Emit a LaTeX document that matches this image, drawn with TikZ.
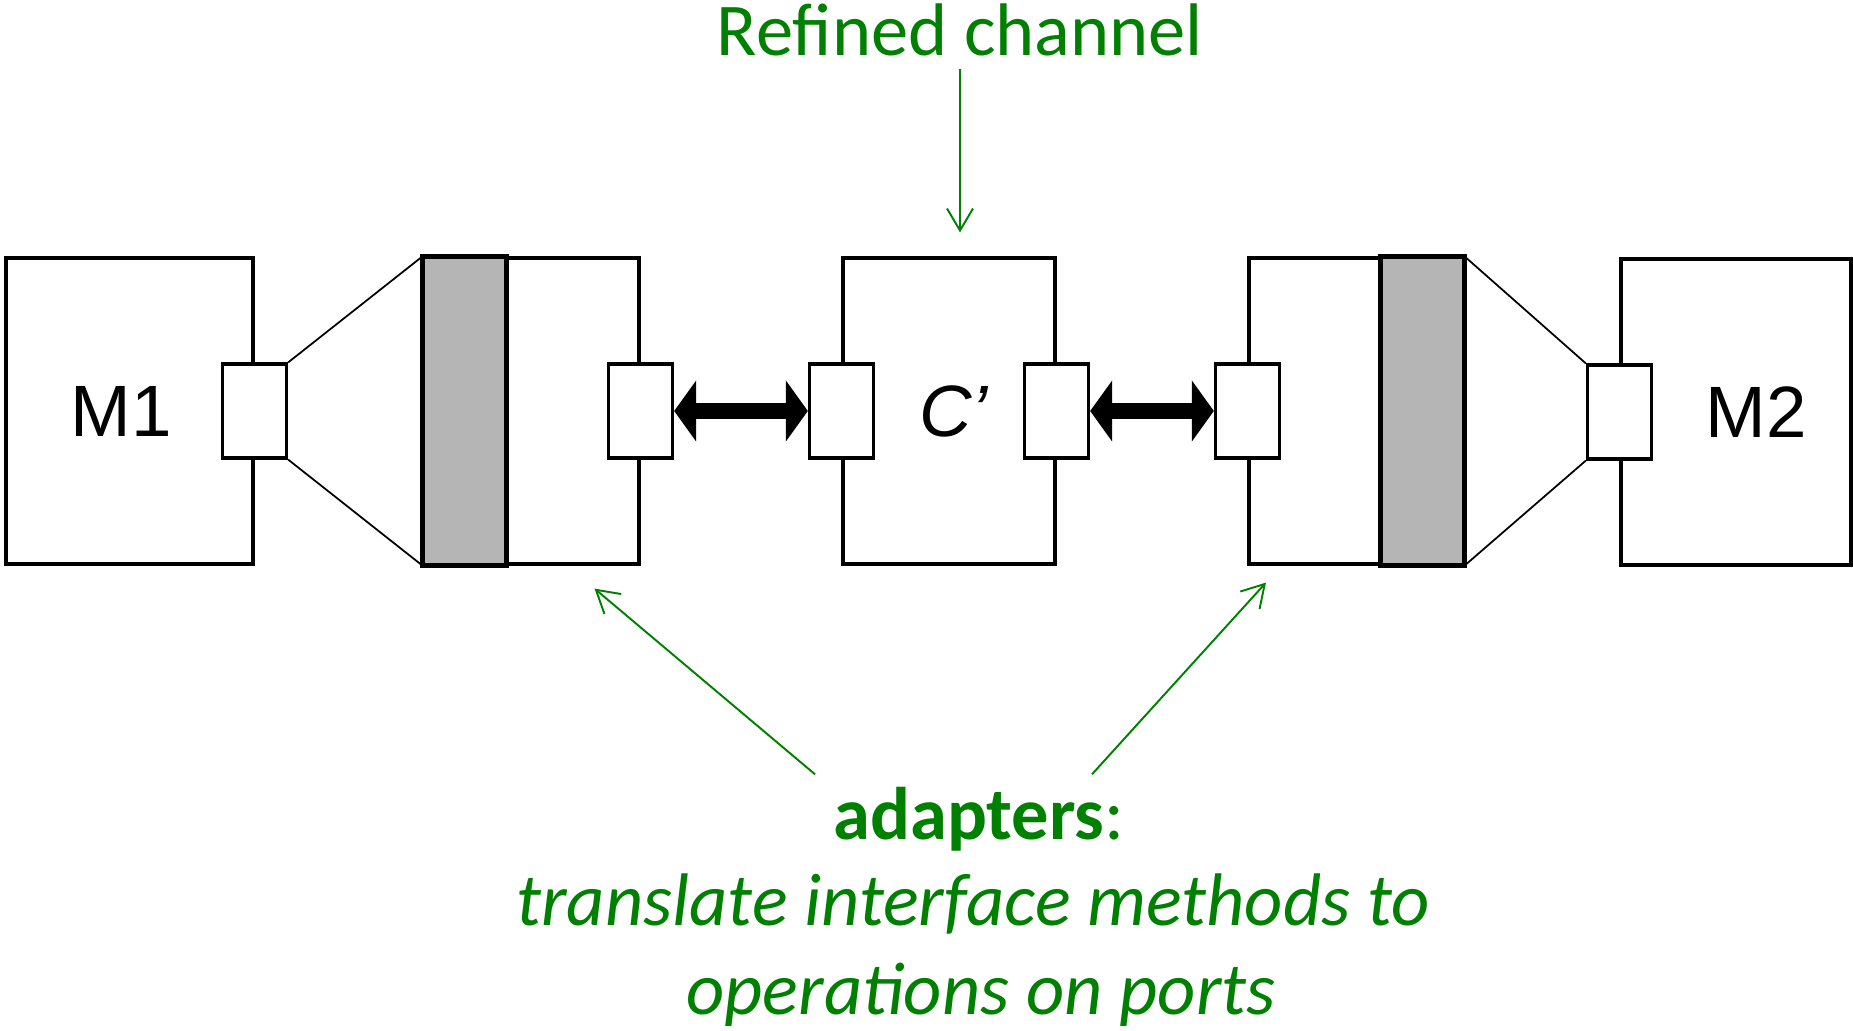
\documentclass[tikz,border=0pt]{standalone}
\usepackage{fontspec}
\setmainfont{Carlito}
\newfontfamily\arialfont{Liberation Sans}
\usepackage{tikz}
\usetikzlibrary{arrows.meta, positioning}

\definecolor{notegreen}{RGB}{0,128,0}

\begin{document}
\begin{tikzpicture}[
        module/.style={draw, line width=0.9pt, minimum width=#1, minimum height=3.06cm,
                       inner sep=0pt},
        modtext/.style={font=\arialfont\fontsize{20.7}{24}\selectfont},
        port/.style={draw, fill=white, line width=0.9pt, minimum width=0.64cm,
                     minimum height=0.94cm, inner sep=0pt},
        funnel/.style={line width=0.5pt},
        strip/.style={draw, fill=black!29, line width=1.2pt},
        bigarrow/.style={line width=4.5pt,
                         {Triangle[length=0.22cm,width=0.6cm]}-{Triangle[length=0.22cm,width=0.6cm]}},
        note/.style={notegreen, line width=0.55pt, -{Straight Barb[length=0.22cm,width=0.26cm]}},
        notetext/.style={notegreen, anchor=base, font=\fontsize{21.2}{25}\selectfont}
    ]
        \useasboundingbox (0,0) rectangle (18.53,-10.31);

        \node[module=2.47cm, label={[modtext,xshift=-0.8mm]center:M1}] (m1) at (1.295,-4.11) {};
        \node[module=2.15cm] (a1) at (5.315,-4.11) {};
        \node[module=2.12cm, label={[modtext,xshift=0.5mm]center:\textit{C’}}] (ch) at (9.49,-4.11) {};
        \node[module=2.14cm] (a2) at (13.56,-4.11) {};
        \node[module=2.30cm, label={[modtext,xshift=2mm]center:M2}] (m2) at (17.36,-4.12) {};

        \draw[strip] (a1.north west) rectangle ([xshift=0.84cm]a1.south west);
        \draw[strip] (a2.north east) rectangle ([xshift=-0.84cm]a2.south east);

        \node[port] (m1p) at (m1.east) {};
        \node[port] (a1p) at (a1.east) {};
        \node[port] (cl) at (ch.west) {};
        \node[port] (cr) at (ch.east) {};
        \node[port] (a2p) at (a2.west) {};
        \node[port] (m2p) at (m2.west) {};

        \draw[funnel] (m1p.north east) -- (a1.north west);
        \draw[funnel] (m1p.south east) -- (a1.south west);
        \draw[funnel] (a2.north east) -- (m2p.north west);
        \draw[funnel] (a2.south east) -- (m2p.south west);

        \draw[bigarrow] (a1p.east) -- (cl.west);
        \draw[bigarrow] (cr.east) -- (a2p.west);

        % labels
        \node[notetext] (rc) at (9.60,-0.56) {Refined channel};
        \node[notetext] (ad) at (9.79,-8.39) {\textbf{adapters}:};
        \node[notetext] (tr) at (9.73,-9.25) {\textit{translate interface methods to}};
        \node[notetext] (op) at (9.81,-10.14) {\textit{operations on ports}};

        \draw[note, shorten >=0.24cm] (rc.south) -- (rc.south |- ch.north);
        \draw[note] ([xshift=-16.4mm]ad.north) -- ([xshift=6.3mm,yshift=-2.3mm]a1.south);
        \draw[note] ([xshift=11.3mm]ad.north) -- ([xshift=-9mm,yshift=-1.7mm]a2.south);
\end{tikzpicture}
\end{document}
